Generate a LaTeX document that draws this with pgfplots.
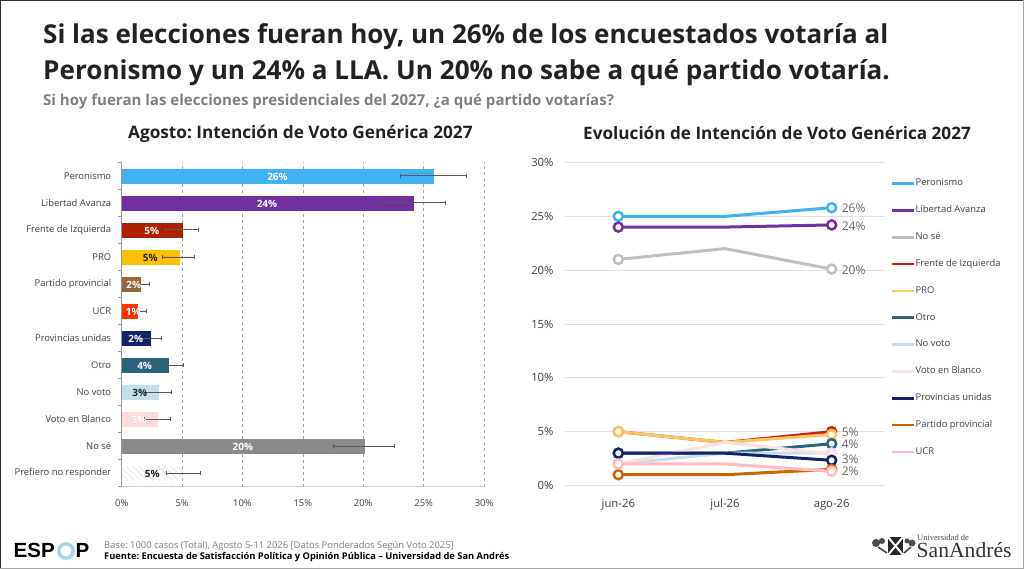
\documentclass[border=0pt]{standalone}
\usepackage{fontspec}
\setmainfont{Open Sans}
\newfontfamily\serifname{Liberation Serif}
\newfontfamily\logofont{Liberation Sans}
\usepackage{pgfplots}
\pgfplotsset{compat=1.18}
\usepackage{pgfplotstable}
\usetikzlibrary{patterns.meta}
\frenchspacing

\definecolor{cPer}{HTML}{41B0F2}
\definecolor{cLLA}{HTML}{7030A0}
\definecolor{cFIT}{HTML}{AE2000}
\definecolor{cPRO}{HTML}{FFC000}
\definecolor{cPP}{HTML}{97653A}
\definecolor{cUCR}{HTML}{FF3300}
\definecolor{cPU}{HTML}{14226B}
\definecolor{cOtro}{HTML}{2A6478}
\definecolor{cNV}{HTML}{C5DFEA}
\definecolor{cVB}{HTML}{FBDADC}
\definecolor{cNS}{HTML}{888B8D}
\definecolor{lFIT}{HTML}{C9200E}
\definecolor{lPRO}{HTML}{F8C762}
\definecolor{lNS}{HTML}{BFBFBF}
\definecolor{lPP}{HTML}{CC6600}
\definecolor{lUCR}{HTML}{FFBBC1}
\definecolor{lVB}{HTML}{F8E0E2}
\definecolor{txt}{HTML}{404040}
\definecolor{ink}{HTML}{222222}

% centred labels inside the bars (x, category)
\pgfplotstableread{
x y lab
12.9 11 26\%
12.03 10 24\%
2.48 9 5\%
1.0 7 2\%
0.95 6 1\%
1.17 5 2\%
1.9 4 4\%
1.43 2 3\%
10.03 1 20\%
}\whitelabs
\pgfplotstableread{
x y lab
2.37 8 5\%
1.5 3 3\%
2.53 0 5\%
}\darklabs

% right panel, final value labels
\pgfplotstableread{
x y lab
2 25.8 26\%
2 24.1 24\%
2 20.0 20\%
2 4.95 5\%
2 3.8 4\%
2 2.41 3\%
2 1.35 2\%
}\endlabs

\pgfplotsset{
  barbase/.style={xbar, bar shift=0pt, bar width=13.7pt, fill=#1, draw=#1, line width=0.3pt,
    error bars/x dir=both, error bars/x explicit,
    error bars/error bar style={color=black!65, line width=0.8pt},
    error bars/error mark options={rotate=90, mark size=2.2pt, line width=0.7pt, color=black!65}},
  evo/.style={color=#1, line width=3pt, mark=*, mark indices={1,3},
    mark options={fill=white, draw=#1, line width=2.5pt}, mark size=4.5pt},
}

\begin{document}
\begin{tikzpicture}[x=1pt,y=1pt]
\path[use as bounding box] (0,0) rectangle (1024,569);
\fill[white] (0,0) rectangle (1024,569);
% slide frame
\draw[black!80, line width=1pt] (0,0) -- (0,568.5) -- (1024,568.5);
\draw[black!35, line width=1pt] (1023.5,569) -- (1023.5,0.5) -- (0,0.5);

% headline
\node[anchor=base west, inner sep=0, font=\fontsize{26}{26}\selectfont\bfseries, text=ink] at (43,525) {Si las elecciones fueran hoy, un 26\% de los encuestados votaría al};
\node[anchor=base west, inner sep=0, font=\fontsize{26.1}{26}\selectfont\bfseries, text=ink] at (43,489) {Peronismo y un 24\% a LLA. Un 20\% no sabe a qué partido votaría.};
\node[anchor=base west, inner sep=0, font=\fontsize{15.05}{15}\selectfont\bfseries, text=black!50] at (43,463) {Si hoy fueran las elecciones presidenciales del 2027, ¿a qué partido votarías?};
\node[anchor=base west, inner sep=0, font=\fontsize{17.2}{17}\selectfont\bfseries, text=ink] at (128,430) {Agosto: Intención de Voto Genérica 2027};
\node[anchor=base west, inner sep=0, font=\fontsize{17.15}{17}\selectfont\bfseries, text=ink] at (583,429.5) {Evolución de Intención de Voto Genérica 2027};

% left panel
\begin{axis}[
  at={(121.7pt,82.3pt)}, anchor=south west,
  scale only axis, width=362.3pt, height=324.4pt,
  xmin=0, xmax=30, ymin=-0.5, ymax=11.5,
  axis x line*=bottom, axis y line*=left,
  x axis line style={draw=black!18, line width=1.6pt},
  y axis line style={draw=black!40, line width=0.6pt},
  xtick={0,5,...,30},
  xticklabels={0\%,5\%,10\%,15\%,20\%,25\%,30\%},
  ytick={0,...,11},
  yticklabels={Prefiero no responder,No sé,Voto en Blanco,No voto,Otro,Provincias unidas,UCR,Partido provincial,PRO,Frente de Izquierda,Libertad Avanza,Peronismo},
  minor ytick={-0.5,0.5,...,11.5},
  major tick length=0pt, minor tick length=3.5pt, tick align=outside,
  minor tick style={draw=black!40, line width=0.6pt},
  xmajorgrids, major x grid style={draw=black!35, dashed, line width=0.6pt},
  tick label style={font=\fontsize{9.4}{9.4}\selectfont, text=txt},
  yticklabel style={xshift=-7pt}, xticklabel style={yshift=-9pt},
  clip=false,
]
\addplot[barbase=cPer] coordinates {(25.8,11) += (2.7,0) -= (2.72,0)};
\addplot[barbase=cLLA] coordinates {(24.13,10) += (2.67,0) -= (2.68,0)};
\addplot[barbase=cFIT] coordinates {(5.0,9) += (1.36,0) -= (1.4,0)};
\addplot[barbase=cPRO] coordinates {(4.74,8) += (1.29,0) -= (1.38,0)};
\addplot[barbase=cPP] coordinates {(1.5,7) += (0.81,0) -= (0.8,0)};
\addplot[barbase=cUCR] coordinates {(1.32,6) += (0.75,0) -= (0.8,0)};
\addplot[barbase=cPU] coordinates {(2.34,5) += (0.96,0) -= (1.0,0)};
\addplot[barbase=cOtro] coordinates {(3.88,4) += (1.19,0) -= (1.28,0)};
\addplot[barbase=cNV] coordinates {(3.03,3) += (1.1,0) -= (1.1,0)};
\addplot[barbase=cVB] coordinates {(2.92,2) += (1.08,0) -= (1.08,0)};
\addplot[barbase=cNS] coordinates {(20.08,1) += (2.52,0) -= (2.53,0)};
\addplot[barbase=white, draw=none, pattern={Lines[angle=-45,distance=4.5pt,line width=1.2pt]}, pattern color=black!8]
  coordinates {(5.1,0) += (1.43,0) -= (1.38,0)};
\addplot[draw=none, mark=none, nodes near coords, point meta=explicit symbolic,
  nodes near coords align={center},
  every node near coord/.append style={font=\fontsize{10}{10}\selectfont\bfseries, text=white, inner sep=0, yshift=-1pt}]
  table[x=x, y=y, meta=lab] {\whitelabs};
\addplot[draw=none, mark=none, nodes near coords, point meta=explicit symbolic,
  nodes near coords align={center},
  every node near coord/.append style={font=\fontsize{10}{10}\selectfont\bfseries, text=ink, inner sep=0, yshift=-1pt}]
  table[x=x, y=y, meta=lab] {\darklabs};
\end{axis}

% right panel
\begin{axis}[
  at={(565pt,83.5pt)}, anchor=south west,
  scale only axis, width=320pt, height=323pt,
  xmin=-0.5, xmax=2.5, ymin=0, ymax=30,
  axis line style={draw=none},
  xtick={0,1,2}, xticklabels={jun-26,jul-26,ago-26},
  ytick={0,5,...,30}, yticklabels={0\%,5\%,10\%,15\%,20\%,25\%,30\%},
  major tick length=0pt,
  ymajorgrids, major y grid style={draw=black!12, line width=0.8pt},
  tick label style={font=\fontsize{11.3}{11}\selectfont, text=txt},
  yticklabel style={xshift=-8pt}, xticklabel style={yshift=-10pt},
  clip=false,
  legend style={at={(axis description cs:1.01875,0.948)}, anchor=north west, draw=none, fill=none,
    inner sep=0pt, outer sep=0pt, row sep=18.35pt,
    nodes={font=\fontsize{9.4}{9.4}\selectfont, text=txt, text height=6.5pt, text depth=2pt, inner sep=0pt}},
  legend cell align=left,
  legend image code/.code={\draw[#1, mark=none, line width=2.6pt] (0pt,0pt) -- (22pt,0pt);},
]
\addplot[evo=cPer] coordinates {(0,25) (1,25) (2,25.8)};
\addlegendentry{Peronismo}
\addplot[evo=cLLA] coordinates {(0,24) (1,24) (2,24.2)};
\addlegendentry{Libertad Avanza}
\addplot[evo=lNS] coordinates {(0,21) (1,22) (2,20.1)};
\addlegendentry{No sé}
\addplot[evo=lFIT] coordinates {(0,5) (1,4) (2,5.0)};
\addlegendentry{Frente de Izquierda}
\addplot[evo=lPRO] coordinates {(0,5) (1,4) (2,4.74)};
\addlegendentry{PRO}
\addplot[evo=cOtro] coordinates {(0,3) (1,3) (2,3.88)};
\addlegendentry{Otro}
\addplot[evo=cNV] coordinates {(0,2) (1,3) (2,3.03)};
\addlegendentry{No voto}
\addplot[evo=lVB] coordinates {(0,2) (1,4) (2,2.92)};
\addlegendentry{Voto en Blanco}
\addplot[evo=cPU] coordinates {(0,3) (1,3) (2,2.34)};
\addlegendentry{Provincias unidas}
\addplot[evo=lPP] coordinates {(0,1) (1,1) (2,1.5)};
\addlegendentry{Partido provincial}
\addplot[evo=lUCR] coordinates {(0,2) (1,2) (2,1.32)};
\addlegendentry{UCR}
\addplot[forget plot, draw=none, mark=none, nodes near coords, point meta=explicit symbolic,
  nodes near coords align={right},
  every node near coord/.append style={font=\fontsize{12}{12}\selectfont, text=black!60, inner sep=0, xshift=10pt}]
  table[x=x, y=y, meta=lab] {\endlabs};
\end{axis}

% footer
\node[anchor=base west, inner sep=0, font=\fontsize{9.4}{9.4}\selectfont, text=black!50] at (104,20) {Base: 1000 casos (Total), Agosto 5-11 2026 [Datos Ponderados Según Voto 2025]};
\node[anchor=base west, inner sep=0, font=\fontsize{9.3}{9.3}\selectfont\bfseries, text=black] at (104,9.5) {Fuente: Encuesta de Satisfacción Política y Opinión Pública – Universidad de San Andrés};
% ESPOP logo
\node[anchor=base west, inner sep=0, font=\logofont\fontsize{20.5}{20}\selectfont\bfseries, text=black] at (13.5,11) {ESP};
\node[anchor=base west, inner sep=0, font=\logofont\fontsize{20.5}{20}\selectfont\bfseries, text=black] at (75.5,11) {P};
\draw[color={rgb,255:red,169;green,214;blue,232}, line width=3.6pt] (66,18) circle (7.2);
% San Andres logo
\node[anchor=base west, inner sep=0, font=\serifname\fontsize{8.5}{8.5}\selectfont, text=black!70] at (917,28) {Universidad de};
\node[anchor=base west, inner sep=0, font=\serifname\fontsize{21.6}{21}\selectfont, text=black!80] at (916.5,11) {SanAndrés};
\fill[black!85] (888,14) rectangle (903,32);
\draw[white, line width=2pt] (888,32) -- (903,14) (903,32) -- (888,14);
\draw[black!70, line width=1.6pt] (887,16) -- (878,22) (904,16) -- (911,22);
\fill[black!70] (876,26) circle (4) (882,28) circle (3) (912,26) circle (3.5) (907,28) circle (2.5);
\end{tikzpicture}
\end{document}
